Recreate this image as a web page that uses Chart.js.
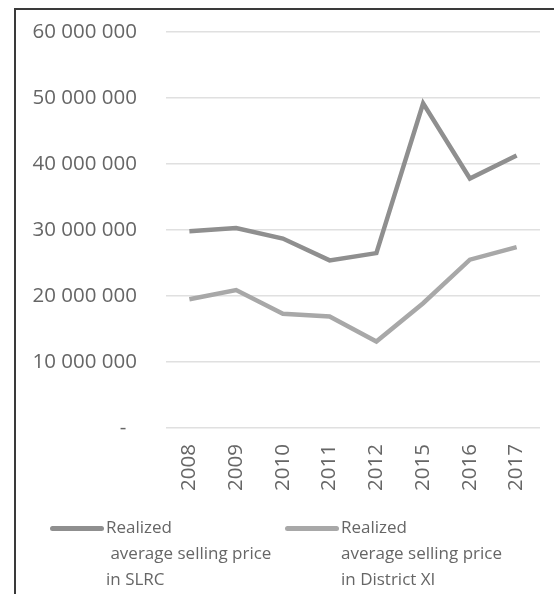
<!DOCTYPE html>
<html>
<head>
<meta charset="utf-8">
<script src="https://cdn.jsdelivr.net/npm/chart.js@4.4.0/dist/chart.umd.min.js"></script>
<style>
    body { margin: 0; background: #fff; }
    #wrap { position: relative; width: 554px; height: 594px; overflow: hidden; }
    #frame {
        position: absolute; left: 14px; top: 8px; width: 700px; height: 700px;
        border-left: 2px solid #3a3a3a; border-top: 2px solid #3a3a3a;
    }
    canvas { position: absolute; left: 0; top: 0; }
    .legend { position: absolute; font-family: "Open Sans", sans-serif; font-size: 17px; color: #666; line-height: 26px; white-space: pre; }
    .legend .swatch { position: absolute; left: 0; top: 12px; width: 54px; height: 5px; border-radius: 3px; }
    .legend .txt { position: absolute; top: 0; }
</style>
</head>
<body>
<div id="wrap">
    <div id="frame"></div>
    <canvas id="lineChart" width="554" height="594"></canvas>
    <div id="legend"></div>
</div>
<script>
// años y precios medios de venta
const years = ["2008", "2009", "2010", "2011", "2012", "2015", "2016", "2017"];
const slrcPrices = [29800000, 30300000, 28700000, 25400000, 26500000, 49200000, 37800000, 41300000];
const districtPrices = [19500000, 20900000, 17300000, 16900000, 13100000, 18900000, 25500000, 27400000];
const seriesNames = ["Realized\n average selling price\nin SLRC", "Realized\naverage selling price\nin District XI"];
const seriesColors = ["#8f8f8f", "#a8a8a8"];

const textColor = "#666";
const fontFamily = "'Open Sans', sans-serif";

const canvas = document.getElementById("lineChart");

new Chart(canvas, {
    type: "line",
    data: {
        labels: years,
        datasets: [
            {
                label: seriesNames[0],
                data: slrcPrices,
                borderColor: seriesColors[0],
                backgroundColor: seriesColors[0],
                borderWidth: 4.5,
                pointRadius: 0,
                tension: 0,
            },
            {
                label: seriesNames[1],
                data: districtPrices,
                borderColor: seriesColors[1],
                backgroundColor: seriesColors[1],
                borderWidth: 4.5,
                pointRadius: 0,
                tension: 0,
            },
        ],
    },
    options: {
        responsive: false,
        animation: false,
        layout: { padding: { left: 16, right: 14, top: 32, bottom: 0 } },
        plugins: { legend: { display: false }, tooltip: { enabled: false } },
        scales: {
            x: {
                offset: true,
                grid: { display: false },
                border: { display: false },
                ticks: {
                    minRotation: 90,
                    maxRotation: 90,
                    padding: 8,
                    color: textColor,
                    font: { family: fontFamily, size: 20.5 },
                },
                afterFit(scale) { scale.height = 166; },
            },
            y: {
                min: 0,
                max: 60000000,
                grid: { color: "#e0e0e0", lineWidth: 1.5, drawTicks: false },
                border: { display: false },
                ticks: {
                    stepSize: 10000000,
                    padding: 29,
                    color: textColor,
                    font: { family: fontFamily, size: 20.5 },
                    // el cero se muestra como guion, estilo contable
                    callback: (v) => v === 0 ? "-  " : v.toLocaleString("en-US").replace(/,/g, " "),
                },
                // ancho fijo y sin relleno extra arriba/abajo
                afterFit(scale) {
                    scale.width = 150;
                    scale.paddingTop = 0;
                    scale.paddingBottom = 0;
                },
            },
        },
    },
});

// leyenda en HTML para poder partir el texto en varias líneas
const legend = document.getElementById("legend");
const legendX = [50, 285];
seriesNames.forEach((name, i) => {
    const item = document.createElement("div");
    item.className = "legend";
    item.style.left = legendX[i] + "px";
    item.style.top = "514px";
    item.innerHTML = `<div class="swatch" style="background:${seriesColors[i]}"></div><div class="txt" style="left:56px"></div>`;
    item.querySelector(".txt").textContent = name;
    legend.appendChild(item);
});
</script>
</body>
</html>
